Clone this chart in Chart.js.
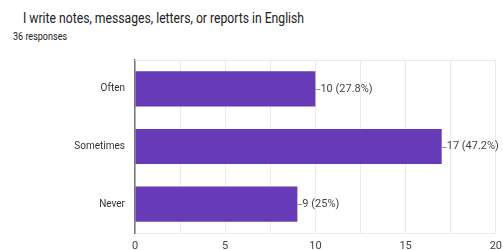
<!DOCTYPE html>
<html>
<head>
<meta charset="utf-8">
<script src="https://cdn.jsdelivr.net/npm/chart.js@4.4.1/dist/chart.umd.min.js"></script>
<style>
  html, body { margin: 0; padding: 0; background: #fff; overflow: hidden; }
  body { width: 503px; height: 250px; position: relative; font-family: Roboto, Arial, sans-serif; }
  .title { position: absolute; left: 23px; top: 11px; font-size: 14px; line-height: 14px; color: #202124; white-space: nowrap; transform: scaleX(0.87); transform-origin: 0 0; }
  .sub { position: absolute; left: 13px; top: 31px; font-size: 11px; line-height: 11px; color: #202124; white-space: nowrap; transform: scaleX(0.82); transform-origin: 0 0; }
  .wrap { position: absolute; left: 0; top: 0; width: 509px; height: 250px; }
</style>
</head>
<body>
<div class="title">I write notes, messages, letters, or reports in English</div>
<div class="sub">36 responses</div>
<div class="wrap"><canvas id="chart"></canvas></div>
<script>
// data
const categories = ["Often", "Sometimes", "Never"];
const counts = [10, 17, 9];
const percentLabels = ["27.8%", "47.2%", "25%"];
const axisMax = 20;

const BAR = "#673ab7";
const GRID = "#ebebeb";
const TEXT = "#444";

// value labels with a small leader line, like google forms
const valueLabels = {
  id: "valueLabels",
  afterDatasetsDraw(chart) {
    const ctx = chart.ctx;
    const meta = chart.getDatasetMeta(0);
    ctx.save();
    ctx.font = "11px Roboto, Arial, sans-serif";
    ctx.fillStyle = TEXT;
    ctx.strokeStyle = "#999";
    ctx.lineWidth = 1;
    ctx.textBaseline = "middle";
    meta.data.forEach((bar, i) => {
      const y = Math.round(bar.y) + 0.5;
      ctx.beginPath();
      ctx.moveTo(bar.x, y);
      ctx.lineTo(bar.x + 5, y);
      ctx.stroke();
      ctx.fillText(`${counts[i]} (${percentLabels[i]})`, bar.x + 5, bar.y);
    });
    ctx.restore();
  }
};

// light frame line along top of the plot
const topLine = {
  id: "topLine",
  beforeDatasetsDraw(chart) {
    const { ctx, chartArea } = chart;
    ctx.save();
    ctx.strokeStyle = GRID;
    ctx.lineWidth = 1;
    ctx.beginPath();
    ctx.moveTo(chartArea.left, chartArea.top + 0.5);
    ctx.lineTo(chartArea.right, chartArea.top + 0.5);
    ctx.stroke();
    ctx.restore();
  }
};

new Chart(document.getElementById("chart"), {
  type: "bar",
  data: {
    labels: categories,
    datasets: [{
      data: counts,
      backgroundColor: BAR,
      borderWidth: 0,
      barPercentage: 0.61,
      categoryPercentage: 1
    }]
  },
  options: {
    indexAxis: "y",
    responsive: true,
    maintainAspectRatio: false,
    animation: false,
    layout: { padding: { top: 60, left: 0, right: 0, bottom: 0 } },
    plugins: {
      legend: { display: false },
      tooltip: { enabled: false }
    },
    scales: {
      x: {
        min: 0,
        max: axisMax,
        ticks: {
          stepSize: 2.5,
          autoSkip: false,
          maxRotation: 0,
          padding: 7,
          color: TEXT,
          font: { family: "Roboto, Arial, sans-serif", size: 11 },
          callback: (v) => (v % 5 === 0 ? v : "")
        },
        grid: { color: GRID, drawTicks: false },
        border: { display: true, color: GRID },
        afterFit: (s) => { s.height = 17; }
      },
      y: {
        ticks: {
          padding: 10,
          color: "#333",
          font: { family: "Roboto, Arial, sans-serif", size: 10 }
        },
        grid: { display: false, drawTicks: false },
        border: { display: true, color: "#777", width: 1.5 },
        afterFit: (s) => { s.width = 135; }
      }
    }
  },
  plugins: [topLine, valueLabels]
});
</script>
</body>
</html>
